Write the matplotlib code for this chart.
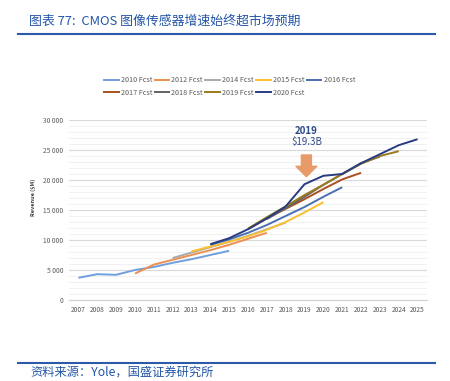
import matplotlib.pyplot as plt
from matplotlib.ticker import MultipleLocator, FuncFormatter
from matplotlib.lines import Line2D

plt.rcParams['font.family'] = ['Noto Sans CJK SC', 'DejaVu Sans']

years = list(range(2007, 2026))

# forecast series: (label, first year, values in $M, colour)
fc2010 = [3700, 4300, 4200, 5000, 5500, 6200, 6800, 7500, 8200]
fc2012 = [4400, 5900, 6700, 7500, 8300, 9200, 10200, 11200]
fc2014 = [7000, 7900, 8800, 9700, 10700, 11800, 12900]
fc2015 = [8100, 8900, 9700, 10600, 11700, 13000, 14600, 16300]
fc2016 = [9200, 10100, 11200, 12500, 14000, 15500, 17200, 18800]
fc2017 = [11800, 13600, 15200, 16800, 18500, 20100, 21200]
fc2018 = [13500, 15300, 17200, 19200, 21000, 22800, 23900]
fc2019 = [11900, 13800, 15600, 17500, 19200, 21000, 22700, 24000, 24800]
fc2020 = [9300, 10300, 11800, 13600, 15600, 19300, 20700, 21000, 22800, 24300, 25800, 26800]

series = [
    ("2010 Fcst", 2007, fc2010, "#6f9fdc"),
    ("2012 Fcst", 2010, fc2012, "#ed8f52"),
    ("2014 Fcst", 2012, fc2014, "#a9a9a9"),
    ("2015 Fcst", 2013, fc2015, "#fbc02d"),
    ("2016 Fcst", 2014, fc2016, "#4a70b0"),
    ("2017 Fcst", 2016, fc2017, "#a9501f"),
    ("2018 Fcst", 2017, fc2018, "#636363"),
    ("2019 Fcst", 2016, fc2019, "#9a7a1e"),
    ("2020 Fcst", 2014, fc2020, "#283c83"),
]

fig = plt.figure(figsize=(4.5, 3.81), dpi=100)
ax = fig.add_axes([69/450, 1-300/381, 358/450, 180/381])

handles = []
for label, start, vals, color in series:
    xs = [y - 2007 for y in range(start, start + len(vals))]
    ln, = ax.plot(xs, vals, color=color, lw=1.4, solid_capstyle='butt', label=label)
    handles.append(ln)

ax.set_xlim(-0.5, 18.5)
ax.set_ylim(0, 30000)
ax.set_xticks(range(len(years)))
ax.set_xticklabels([str(y) for y in years])
ax.yaxis.set_major_locator(MultipleLocator(5000))
ax.yaxis.set_minor_locator(MultipleLocator(1000))
ax.yaxis.set_major_formatter(FuncFormatter(lambda v, p: f"{int(v):,}".replace(",", " ")))
ax.grid(which='major', axis='y', color='#d9d9d9', lw=0.8)
ax.grid(which='minor', axis='y', color='#eeeeee', lw=0.6)
ax.set_axisbelow(True)
for s in ['top', 'right', 'left']:
    ax.spines[s].set_visible(False)
ax.spines['bottom'].set_color('#d0d0d0')
ax.tick_params(axis='both', which='both', length=0, labelsize=4.8, colors='#595959', pad=4)

# annotation
ax.text(12.1, 28200, "2019", color='#2e4a8a', fontsize=7, fontweight='bold', ha='center', va='center')
ax.text(12.1, 26300, "$19.3B", color='#2e4a8a', fontsize=7, ha='center', va='center')
ax.annotate("", xy=(12.1, 20550), xytext=(12.1, 24170),
            arrowprops=dict(arrowstyle="simple,head_width=15,head_length=7.5,tail_width=7.2",
                            mutation_scale=1, color='#e89a68', shrinkA=0, shrinkB=0))

fig.text(33/450, 1-197/381, "Revenue ($M)", rotation=90, fontsize=4, fontweight='bold',
         color='#404040', ha='center', va='center')

order = [0, 5, 1, 6, 2, 7, 3, 8, 4]
fig.legend([handles[i] for i in order], [series[i][0] for i in order], ncol=5,
           loc='center', bbox_to_anchor=(229/450, 1-86.5/381), frameon=False,
           fontsize=5.2, handlelength=2.3, handletextpad=0.15, columnspacing=0.2,
           labelspacing=0.65, labelcolor='#595959')

# title and source
blue = '#2356a8'
fig.text(29/450, 1-21/381, "图表 77:  CMOS 图像传感器增速始终超市场预期", fontsize=9.3,
         color=blue, ha='left', va='center')
fig.add_artist(Line2D([18/450, 435/450], [1-33.5/381, 1-33.5/381], color='#2b5ba8', lw=1.5))
fig.add_artist(Line2D([18/450, 435/450], [1-362.7/381, 1-362.7/381], color='#2b5ba8', lw=1.5))
fig.text(30/450, 1-372/381, "资料来源：Yole，国盛证券研究所", fontsize=8.8,
         color=blue, ha='left', va='center')

fig.savefig("out.png", dpi=100)
